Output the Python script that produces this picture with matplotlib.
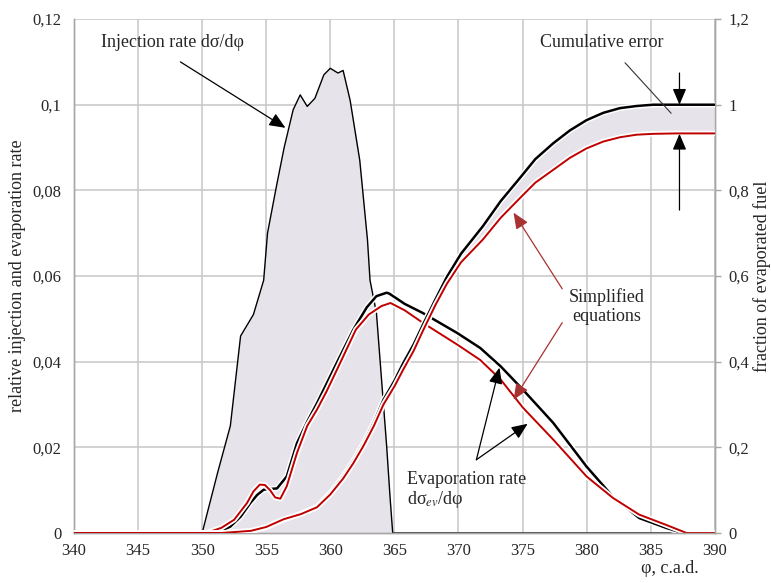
import matplotlib
matplotlib.use("Agg")
import matplotlib.pyplot as plt
import matplotlib.patheffects as pe
from matplotlib.ticker import FixedLocator, FixedFormatter

plt.rcParams['font.family'] = ['Liberation Serif', 'DejaVu Serif']
plt.rcParams['mathtext.fontset'] = 'stix'

# ---------------- data ----------------
phi_inj = [340, 350.0, 351.2, 352.2, 353.0, 354.0, 354.8, 355.1, 355.8, 356.4, 357.1,
           357.65, 358.2, 358.8, 359.5, 360.0, 360.6, 361.0, 361.55, 362.3, 362.9,
           363.1, 363.6, 364.0, 364.4, 364.66, 364.87, 390]
inj_rate = [0, 0, 0.014, 0.025, 0.046, 0.051, 0.059, 0.070, 0.081, 0.090, 0.0988,
            0.1023, 0.0996, 0.1015, 0.107, 0.1085, 0.1074, 0.108, 0.101, 0.087, 0.0685,
            0.059, 0.0514, 0.0358, 0.0202, 0.0085, 0, 0]

phi_ev_ref = [340, 350.5, 351.5, 352.2, 353.0, 353.76, 354.3, 354.8, 355.4, 355.84,
              356.6, 357.4, 358.2, 358.96, 359.7, 360.5, 361.8, 362.85, 363.6, 364.4,
              364.6, 365.8, 367.26, 369.9, 371.7, 373.3, 375.05, 377.4, 380.0, 382.05,
              384.1, 386.2, 387.5, 390]
ev_ref = [0, 0, 0.0005, 0.0015, 0.0038, 0.0070, 0.0089, 0.0101, 0.0103, 0.0104,
          0.0132, 0.0210, 0.0260, 0.0303, 0.0348, 0.0397, 0.0475, 0.0527, 0.0553, 0.0561,
          0.0559, 0.0535, 0.0513, 0.0467, 0.0432, 0.0389, 0.0334, 0.0257, 0.0155, 0.0085,
          0.0035, 0.0012, 0, 0]

phi_ev_simp = [340, 350.3, 351.5, 352.5, 353.5, 354.0, 354.5, 354.9, 355.3, 355.7,
               356.1, 356.6, 357.4, 358.2, 358.96, 359.7, 360.5, 362.0, 363.0, 364.0,
               364.7, 365.8, 367.26, 369.9, 371.7, 373.3, 375.05, 377.4, 380.0, 382.05,
               384.1, 386.2, 387.8, 390]
ev_simp = [0, 0, 0.0012, 0.0031, 0.0070, 0.0097, 0.0113, 0.0112, 0.0100, 0.0083,
           0.0080, 0.0109, 0.0187, 0.0250, 0.0288, 0.0330, 0.0380, 0.0475, 0.0510, 0.0530,
           0.0537, 0.0520, 0.0490, 0.0440, 0.0404, 0.0358, 0.0292, 0.0218, 0.0132, 0.0082,
           0.0043, 0.0019, 0, 0]

phi_cum = [340, 351.5, 353.8, 355.0, 356.35, 357.7, 358.96, 360.0, 361.0, 361.8, 362.6,
           363.4, 364.15, 365.0, 365.7, 366.5, 367.26, 368.2, 369.1, 370.2, 371.9, 373.3,
           374.8, 376.0, 377.4, 378.7, 380.0, 381.3, 382.6, 383.9, 385.2, 387, 390]
cum_ref = [0, 0, 0.004, 0.013, 0.031, 0.045, 0.062, 0.094, 0.132, 0.169, 0.210,
           0.258, 0.311, 0.355, 0.397, 0.440, 0.488, 0.545, 0.598, 0.652, 0.716, 0.775,
           0.829, 0.873, 0.910, 0.940, 0.964, 0.981, 0.992, 0.997, 1.0, 1.0, 1.0]
cum_simp = [0, 0, 0.005, 0.014, 0.032, 0.044, 0.060, 0.090, 0.127, 0.163, 0.204,
            0.250, 0.300, 0.342, 0.382, 0.425, 0.474, 0.532, 0.582, 0.632, 0.685, 0.736,
            0.782, 0.818, 0.848, 0.876, 0.898, 0.914, 0.924, 0.930, 0.932, 0.933, 0.933]

x_ticks = [340, 345, 350, 355, 360, 365, 370, 375, 380, 385, 390]
y_left_ticks = [0, 0.02, 0.04, 0.06, 0.08, 0.1, 0.12]
y_left_labels = ['0', '0,02', '0,04', '0,06', '0,08', '0,1', '0,12']
y_right_ticks = [0, 0.2, 0.4, 0.6, 0.8, 1.0, 1.2]
y_right_labels = ['0', '0,2', '0,4', '0,6', '0,8', '1', '1,2']

# ---------------- style ----------------
RED = '#c00000'
DARKRED = '#a83232'
FILL = '#e7e3ea'
GRID = '#c6c6c6'
TXT = '#262626'
FS = 12
FA = 13

fig = plt.figure(figsize=(7.71, 5.83), dpi=100)
ax = fig.add_axes([0.096, 0.0858, 0.831, 0.8815])
ax2 = ax.twinx()

ax.set_xlim(340, 390)
ax.set_ylim(0, 0.12)
ax2.set_ylim(0, 1.2)

ax.xaxis.set_major_locator(FixedLocator(x_ticks))
ax.yaxis.set_major_locator(FixedLocator(y_left_ticks))
ax.yaxis.set_major_formatter(FixedFormatter(y_left_labels))
ax2.yaxis.set_major_locator(FixedLocator(y_right_ticks))
ax2.yaxis.set_major_formatter(FixedFormatter(y_right_labels))

ax.grid(True, color=GRID, lw=1.1)
ax.set_axisbelow(True)
for a in (ax, ax2):
    for s in a.spines.values():
        s.set_color('#a6a6a6')
        s.set_linewidth(1.0)
    a.spines['top'].set_visible(False)
ax.tick_params(axis='x', length=0, pad=7, labelsize=FS, labelcolor=TXT)
ax.tick_params(axis='y', length=0, pad=9, labelsize=FS, labelcolor=TXT)
ax2.tick_params(axis='y', length=4, width=1, color='#a6a6a6', pad=6,
                labelsize=FS, labelcolor=TXT)

halo = [pe.withStroke(linewidth=4.0, foreground='white')]

# injection rate
ax.fill_between(phi_inj, inj_rate, 0, color=FILL, lw=0, zorder=1)
ax.plot(phi_inj, inj_rate, color='black', lw=1.0, zorder=2)

# evaporation rates
ax.plot(phi_ev_ref, ev_ref, color='black', lw=1.8, zorder=3, path_effects=halo,
        solid_joinstyle='round')
ax.plot(phi_ev_simp, ev_simp, color=RED, lw=1.4, zorder=4, path_effects=halo,
        solid_joinstyle='round')

# cumulative fractions
ax2.fill_between(phi_cum, cum_ref, cum_simp, color=FILL, lw=0, zorder=1)
ax2.plot(phi_cum, cum_ref, color='black', lw=1.8, zorder=3, path_effects=halo,
         solid_joinstyle='round')
ax2.plot(phi_cum, cum_simp, color=RED, lw=1.4, zorder=4, path_effects=halo,
         solid_joinstyle='round')

ax.set_ylabel('relative injection and evaporation rate', fontsize=FA, color=TXT, labelpad=5)
ax2.set_ylabel('fraction of evaporated fuel', fontsize=FA, color=TXT, labelpad=3)
ax.set_xlabel('φ, c.a.d.', fontsize=FA, color=TXT)
ax.xaxis.set_label_coords(0.975, -0.052)
ax.xaxis.label.set_horizontalalignment('right')

# ---------------- annotations ----------------
arrow_k = dict(arrowstyle='-|>,head_length=0.75,head_width=0.32', color='black', lw=0.9,
               shrinkA=0, shrinkB=0, mutation_scale=13)
ax.text(347.7, 0.1145, 'Injection rate dσ/dφ', fontsize=FA, color=TXT, ha='center', va='center')
ax.annotate('', xy=(356.5, 0.0946), xytext=(348.3, 0.110), arrowprops=arrow_k, zorder=8)

ax2.text(381.2, 1.145, 'Cumulative error', fontsize=FA, color=TXT, ha='center', va='center')
ax2.annotate('', xy=(386.6, 0.98), xytext=(383.0, 1.098), zorder=8,
             arrowprops=dict(arrowstyle='-', color='#333333', lw=0.8, shrinkA=0, shrinkB=0))

ax2.annotate('', xy=(387.25, 1.0), xytext=(387.25, 1.074), arrowprops=arrow_k, zorder=8)
ax2.annotate('', xy=(387.25, 0.932), xytext=(387.25, 0.754), arrowprops=arrow_k, zorder=8)

ax2.text(381.6, 0.529, 'Simplified\nequations', fontsize=FA, color=TXT, ha='center',
         va='center', linespacing=1.1)
arrow_r = dict(arrowstyle='-|>,head_length=0.75,head_width=0.32', color=DARKRED, lw=0.9,
               shrinkA=0, shrinkB=0, mutation_scale=13)
ax2.annotate('', xy=(374.3, 0.748), xytext=(378.1, 0.57), arrowprops=arrow_r, zorder=8)
ax2.annotate('', xy=(374.3, 0.311), xytext=(378.1, 0.491), arrowprops=arrow_r, zorder=8)

ax2.text(366.0, 0.099, 'Evaporation rate\ndσ$_{ev}$/dφ', fontsize=FA, color=TXT, ha='left',
         va='center', linespacing=1.1)
ax2.annotate('', xy=(373.2, 0.386), xytext=(371.4, 0.171), arrowprops=arrow_k, zorder=8)
ax2.annotate('', xy=(375.4, 0.255), xytext=(371.4, 0.171), arrowprops=arrow_k, zorder=8)

fig.savefig('out.png', dpi=100)
